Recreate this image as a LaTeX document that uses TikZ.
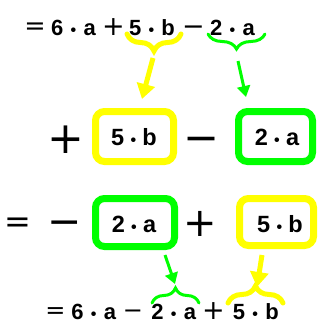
\documentclass[tikz,border=0pt]{standalone}
\usepackage{fontspec}
\setmainfont{Liberation Sans}
\newfontfamily\opf{DejaVu Sans}
\usetikzlibrary{decorations.pathreplacing,arrows.meta}
\definecolor{yel}{RGB}{255,255,0}
\definecolor{grn}{RGB}{0,255,0}
\newcommand\mydot{{\fontsize{16}{16}\selectfont •}}
\newcommand\trm[3]{#1\hspace{#3}\mydot\hspace{#3}#2}
\newcommand\opc[1]{\vphantom{+}#1}
\begin{document}
\begin{tikzpicture}[x=1pt,y=-1pt,
  term/.style={font=\fontsize{22}{24}\selectfont\bfseries, inner sep=0pt, anchor=base},
  bterm/.style={font=\fontsize{23.5}{26}\selectfont\bfseries, inner sep=0pt, anchor=base},
  op/.style={font=\fontsize{#1}{#1}\selectfont\opf, inner sep=0pt, anchor=center},
  ybox/.style={draw=yel, line width=7pt, rounded corners=9pt, inner sep=0pt},
  gbox/.style={draw=grn, line width=7pt, rounded corners=9pt, inner sep=0pt},
  ybrace/.style={draw=yel, line width=5pt, line cap=round, decorate, decoration={brace, amplitude=17pt}},
  gbrace/.style={draw=grn, line width=3pt, line cap=round, decorate, decoration={brace, amplitude=15pt}},
  yarrow/.style={draw=yel, fill=yel, line width=5pt, -{Triangle[length=15pt,width=18pt]}},
  garrow/.style={draw=grn, fill=grn, line width=3pt, -{Triangle[length=11pt,width=13pt]}},
]
\useasboundingbox (0,0) rectangle (320,322);
% top line
\node[op=25.5] (t0) at (35,27) {\opc{=}};
\node[term] (t1) at (73.5,35) {\trm{6}{a}{7.3pt}};
\node[op=27] (t2) at (113.5,27) {+};
\node[term] (t3) at (152,35) {\trm{5}{b}{7.3pt}};
\node[op=27] (t4) at (193.5,27) {\opc{−}};
\node[term] (t5) at (232.5,35) {\trm{2}{a}{7.3pt}};
% braces top
\draw[ybrace] (181,34) -- (127,34);
\draw[gbrace] (265,34) -- (208,34);
\coordinate (ya1) at (153,58);
\coordinate (ya2) at (142,99);
\coordinate (ga1) at (238,61);
\coordinate (ga2) at (246,97);
\draw[yarrow] (ya1) -- (ya2);
\draw[garrow] (ga1) -- (ga2);
% row 2
\node[op=44] (r0) at (66,139.7) {+};
\node[ybox, minimum width=78pt, minimum height=50pt] (yb2) at (134.5,136.5) {};
\node[bterm] (r1) at (134,145) {\trm{5}{b}{6.3pt}};
\node[op=43] (r2) at (201.5,139) {\opc{−}};
\node[gbox, minimum width=74pt, minimum height=50pt] (gb2) at (275.5,136.5) {};
\node[bterm] (r3) at (277,145) {\trm{2}{a}{6.3pt}};
% row 3
\node[op=32] (s0) at (18,222) {\opc{=}};
\node[op=41] (s1) at (65,223) {\opc{−}};
\node[gbox, minimum width=79pt, minimum height=48pt] (gb3) at (135,222.5) {};
\node[bterm] (s2) at (134,232) {\trm{2}{a}{6.3pt}};
\node[op=40] (s3) at (200.5,224) {+};
\node[ybox, minimum width=74pt, minimum height=47pt] (yb3) at (276.5,222) {};
\node[bterm] (s4) at (280,232) {\trm{5}{b}{6.3pt}};
% bottom arrows
\coordinate (ga3) at (165,255);
\coordinate (ga4) at (175,284);
\coordinate (ya3) at (262,255);
\coordinate (ya4) at (257,287);
\draw[garrow] (ga3) -- (ga4);
\draw[yarrow] (ya3) -- (ya4);
% bottom braces
\draw[gbrace] (152,303) -- (199,303);
\draw[ybrace] (228,303) -- (283,303);
% bottom line
\node[op=24] (b0) at (55.5,311) {\opc{=}};
\node[term] (b1) at (93.75,319) {\trm{6}{a}{7.3pt}};
\node[op=24] (b2) at (133,311) {\opc{−}};
\node[term] (b3) at (173.75,319) {\trm{2}{a}{7.3pt}};
\node[op=27] (b4) at (213.5,311) {+};
\node[term] (b5) at (255.75,319) {\trm{5}{b}{7.3pt}};
\end{tikzpicture}
\end{document}
